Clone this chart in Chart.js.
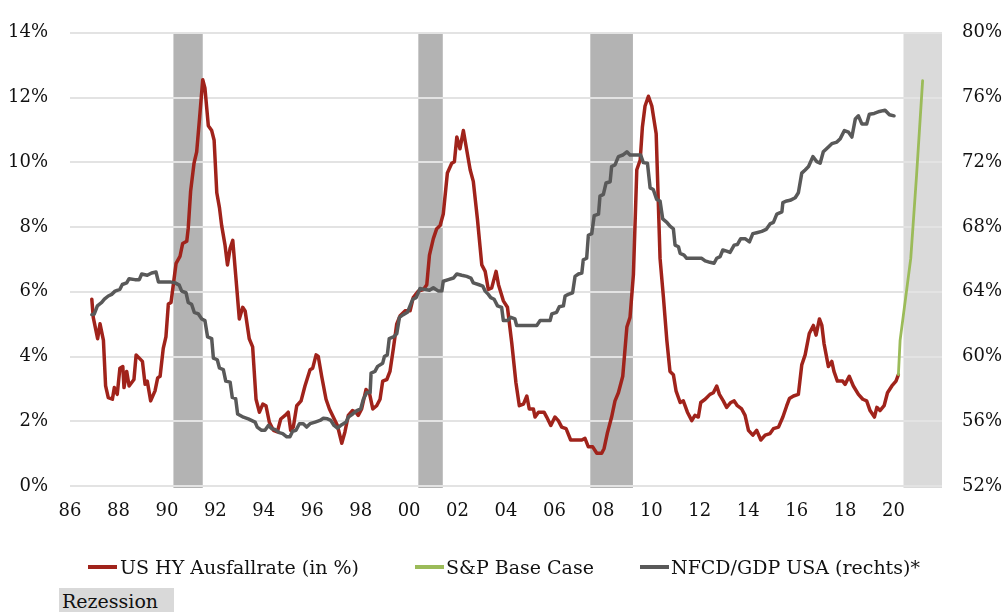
<!DOCTYPE html>
<html>
<head>
<meta charset="utf-8">
<script src="https://cdn.jsdelivr.net/npm/chart.js@4/dist/chart.umd.min.js"></script>
<style>
  html, body { margin: 0; padding: 0; background: #fff; }
  #wrap { position: relative; width: 1006px; height: 612px; overflow: hidden; }
  canvas { position: absolute; left: 0; top: 0; }
  .lg { position: absolute; font-family: 'DejaVu Serif', serif; font-size: 19px; color: #111; line-height: 22px; white-space: nowrap; }
  .mk { position: absolute; height: 4px; width: 29px; }
  #rez { position: absolute; left: 59px; top: 588px; width: 115px; height: 24px; background: #d9d9d9; }
</style>
</head>
<body>
<div id="wrap">
  <canvas id="c" width="1006" height="612"></canvas>
  <div class="mk" style="left:88px; top:565px; background:#a0231b"></div>
  <div class="lg" style="left:120px; top:556px">US HY Ausfallrate (in %)</div>
  <div class="mk" style="left:415px; top:565px; background:#9bbb59"></div>
  <div class="lg" style="left:446px; top:556px">S&amp;P Base Case</div>
  <div class="mk" style="left:640px; top:565px; background:#595959"></div>
  <div class="lg" style="left:671px; top:556px">NFCD/GDP USA (rechts)*</div>
  <div id="rez"></div>
  <div class="lg" style="left:62px; top:590px">Rezession</div>
</div>
<script>
// ---- data ----
const hyYears = [1986.90,1986.96,1987.14,1987.24,1987.38,1987.47,1987.58,1987.75,1987.83,1987.95,1988.06,1988.18,1988.23,1988.34,1988.44,1988.64,1988.73,1988.99,1989.10,1989.19,1989.33,1989.51,1989.62,1989.72,1989.85,1989.96,1990.06,1990.17,1990.38,1990.54,1990.65,1990.82,1990.88,1990.98,1991.12,1991.23,1991.34,1991.48,1991.57,1991.71,1991.85,1991.95,1992.06,1992.17,1992.26,1992.40,1992.50,1992.61,1992.72,1992.85,1992.99,1993.13,1993.23,1993.40,1993.54,1993.68,1993.82,1993.96,1994.09,1994.23,1994.40,1994.56,1994.70,1994.88,1995.01,1995.11,1995.22,1995.36,1995.54,1995.70,1995.91,1996.02,1996.16,1996.25,1996.39,1996.57,1996.71,1996.87,1997.04,1997.22,1997.35,1997.49,1997.66,1997.80,1997.90,1998.04,1998.22,1998.36,1998.50,1998.66,1998.80,1998.91,1999.08,1999.21,1999.35,1999.49,1999.63,1999.83,2000.04,2000.17,2000.38,2000.59,2000.73,2000.84,2001.00,2001.14,2001.28,2001.41,2001.58,2001.76,2001.87,2001.97,2002.10,2002.24,2002.38,2002.52,2002.65,2002.82,2003.00,2003.14,2003.27,2003.41,2003.59,2003.69,2003.89,2004.06,2004.24,2004.41,2004.55,2004.72,2004.86,2004.96,2005.13,2005.20,2005.34,2005.57,2005.68,2005.85,2006.02,2006.16,2006.30,2006.48,2006.67,2006.89,2007.13,2007.26,2007.40,2007.58,2007.75,2007.95,2008.05,2008.18,2008.36,2008.50,2008.64,2008.82,2008.99,2009.12,2009.26,2009.40,2009.54,2009.63,2009.74,2009.88,2010.02,2010.20,2010.36,2010.50,2010.64,2010.77,2010.91,2011.02,2011.19,2011.32,2011.49,2011.67,2011.80,2011.94,2012.04,2012.22,2012.42,2012.56,2012.70,2012.81,2012.97,2013.11,2013.28,2013.42,2013.55,2013.73,2013.87,2014.01,2014.19,2014.35,2014.52,2014.70,2014.90,2015.04,2015.25,2015.43,2015.59,2015.70,2015.87,2016.07,2016.21,2016.35,2016.52,2016.69,2016.80,2016.94,2017.04,2017.13,2017.31,2017.45,2017.54,2017.68,2017.90,2018.00,2018.17,2018.34,2018.55,2018.73,2018.89,2019.03,2019.21,2019.31,2019.44,2019.61,2019.75,2019.93,2020.10,2020.20];
const hyRates = [5.77,5.21,4.55,5.01,4.50,3.09,2.73,2.68,3.04,2.83,3.64,3.69,3.04,3.54,3.09,3.29,4.05,3.85,3.14,3.24,2.63,2.94,3.34,3.39,4.25,4.61,5.62,5.67,6.88,7.09,7.49,7.56,7.95,9.11,9.97,10.32,11.29,12.55,12.30,11.13,10.98,10.68,9.06,8.60,8.05,7.44,6.83,7.34,7.59,6.43,5.16,5.52,5.41,4.55,4.30,2.68,2.28,2.53,2.48,1.97,1.72,1.67,2.07,2.18,2.28,1.72,1.82,2.48,2.63,3.09,3.59,3.64,4.05,4.00,3.39,2.68,2.38,2.13,1.87,1.32,1.67,2.18,2.33,2.28,2.18,2.38,2.98,2.88,2.38,2.48,2.68,3.24,3.29,3.54,4.25,5.01,5.26,5.41,5.41,5.82,6.02,6.07,6.22,7.13,7.64,7.95,8.05,8.40,9.67,9.97,10.02,10.78,10.42,10.98,10.37,9.77,9.41,8.25,6.83,6.63,6.07,6.12,6.63,6.22,5.72,5.52,4.40,3.19,2.48,2.53,2.78,2.38,2.38,2.13,2.28,2.28,2.13,1.87,2.13,2.02,1.82,1.77,1.42,1.42,1.42,1.47,1.21,1.21,1.01,1.01,1.16,1.62,2.13,2.63,2.88,3.39,4.91,5.21,6.53,9.77,10.07,11.08,11.74,12.04,11.74,10.88,7.03,5.82,4.50,3.54,3.44,2.94,2.58,2.63,2.28,2.02,2.18,2.13,2.58,2.68,2.83,2.88,3.09,2.83,2.63,2.43,2.58,2.63,2.48,2.38,2.18,1.72,1.57,1.72,1.42,1.57,1.62,1.77,1.82,2.13,2.48,2.70,2.78,2.83,3.74,4.05,4.71,4.96,4.66,5.16,4.96,4.40,3.69,3.85,3.54,3.24,3.24,3.14,3.39,3.09,2.83,2.68,2.63,2.33,2.13,2.43,2.33,2.48,2.88,3.09,3.24,3.44];

const baseYears = [2020.20,2020.27,2020.71,2020.95,2021.20];
const baseRates = [3.44,4.50,7.03,9.60,12.52];

const nfcdYears = [1986.90,1987.00,1987.13,1987.31,1987.42,1987.58,1987.72,1987.86,1988.06,1988.16,1988.34,1988.44,1988.68,1988.86,1988.96,1989.19,1989.37,1989.55,1989.65,1990.13,1990.34,1990.51,1990.61,1990.79,1990.88,1991.02,1991.13,1991.30,1991.44,1991.57,1991.68,1991.85,1991.92,1992.08,1992.17,1992.33,1992.43,1992.61,1992.70,1992.84,1992.92,1993.16,1993.36,1993.64,1993.73,1993.91,1994.05,1994.19,1994.33,1994.46,1994.64,1994.78,1994.95,1995.08,1995.19,1995.33,1995.47,1995.63,1995.77,1995.91,1996.12,1996.32,1996.46,1996.63,1996.77,1996.90,1997.04,1997.22,1997.40,1997.49,1997.67,1997.84,1998.00,1998.11,1998.25,1998.39,1998.43,1998.59,1998.70,1998.91,1998.98,1999.10,1999.18,1999.35,1999.49,1999.60,1999.76,1999.93,2000.15,2000.29,2000.45,2000.62,2000.84,2001.00,2001.21,2001.35,2001.41,2001.62,2001.83,2001.97,2002.17,2002.38,2002.55,2002.65,2002.86,2003.04,2003.14,2003.27,2003.37,2003.51,2003.65,2003.82,2003.89,2004.06,2004.20,2004.37,2004.44,2005.27,2005.41,2005.82,2005.89,2006.09,2006.20,2006.37,2006.44,2006.57,2006.75,2006.85,2006.99,2007.13,2007.19,2007.33,2007.40,2007.54,2007.64,2007.82,2007.88,2008.02,2008.13,2008.30,2008.36,2008.50,2008.64,2008.82,2008.99,2009.12,2009.56,2009.67,2009.84,2009.95,2010.08,2010.22,2010.36,2010.47,2010.64,2010.77,2010.91,2010.98,2011.12,2011.19,2011.35,2011.46,2012.08,2012.22,2012.42,2012.59,2012.70,2012.84,2012.95,2013.11,2013.25,2013.42,2013.55,2013.69,2013.87,2014.05,2014.19,2014.35,2014.56,2014.74,2014.90,2015.04,2015.18,2015.39,2015.43,2015.59,2015.73,2015.94,2016.07,2016.21,2016.35,2016.49,2016.67,2016.83,2016.97,2017.10,2017.31,2017.45,2017.66,2017.80,2017.97,2018.14,2018.28,2018.42,2018.55,2018.69,2018.89,2019.00,2019.20,2019.42,2019.65,2019.83,2020.02];
const nfcdRatio = [62.59,62.62,63.13,63.34,63.54,63.74,63.84,64.04,64.15,64.45,64.55,64.81,64.75,64.75,65.10,65.02,65.16,65.22,64.61,64.61,64.55,64.41,64.04,63.94,63.34,63.23,62.73,62.63,62.32,62.22,61.21,61.11,59.90,59.80,59.29,59.19,58.48,58.42,57.47,57.40,56.45,56.25,56.15,55.95,55.64,55.44,55.44,55.74,55.54,55.50,55.30,55.24,55.04,55.04,55.38,55.44,55.85,55.85,55.64,55.85,55.95,56.05,56.19,56.15,56.05,55.74,55.58,55.79,55.95,56.25,56.45,56.66,56.76,57.36,57.77,57.77,58.98,59.08,59.39,59.59,60.00,60.10,61.11,61.21,61.41,62.42,62.59,62.73,63.54,63.64,64.20,64.15,64.10,64.25,64.04,64.04,64.65,64.75,64.85,65.10,65.02,64.95,64.85,64.55,64.45,64.35,64.04,63.84,63.64,63.54,63.13,63.03,62.22,62.22,62.42,62.32,61.92,61.92,62.22,62.22,62.63,62.73,63.07,63.13,63.74,63.84,63.94,64.95,65.10,65.16,65.97,66.07,67.49,67.59,68.70,68.80,69.91,70.02,70.72,70.80,71.74,71.84,72.35,72.45,72.65,72.45,72.45,71.98,71.94,70.42,70.32,69.71,69.61,68.50,68.29,68.05,67.89,66.88,66.78,66.37,66.27,66.07,66.07,65.91,65.82,65.76,66.07,66.17,66.58,66.51,66.43,66.88,66.92,67.28,67.28,67.08,67.59,67.65,67.73,67.85,68.19,68.29,68.80,68.94,69.51,69.61,69.65,69.81,70.12,71.33,71.53,71.74,72.35,72.04,71.94,72.65,72.95,73.15,73.25,73.46,73.96,73.86,73.56,74.67,74.87,74.37,74.37,74.97,75.02,75.14,75.22,74.94,74.87];

const recessionStart = [1990.27, 2000.38, 2007.48];
const recessionEnd   = [1991.48, 2001.39, 2009.24];
const forecastStart = 2020.41, forecastEnd = 2022.0;

const xTickYears = [1986,1988,1990,1992,1994,1996,1998,2000,2002,2004,2006,2008,2010,2012,2014,2016,2018,2020];
const leftTicks = [0,2,4,6,8,10,12,14];
const rightTicks = [52,56,60,64,68,72,76,80];

// ---- chart ----
const toXY = (xs, ys) => xs.map((x, i) => ({x, y: ys[i]}));
const FONT = {family: "'DejaVu Serif', serif", size: 18};

const bandPlugin = {
  id: 'bands',
  beforeDraw(chart) {
    const {ctx, chartArea, scales} = chart;
    const x = scales.x;
    ctx.save();
    const top = chartArea.top, bot = chartArea.bottom + 2;
    ctx.fillStyle = '#b3b3b3';
    recessionStart.forEach((s, i) => {
      const a = x.getPixelForValue(s), b = x.getPixelForValue(recessionEnd[i]);
      ctx.fillRect(a, top, b - a, bot - top);
    });
    ctx.fillStyle = '#dadada';
    const a = x.getPixelForValue(forecastStart), b = x.getPixelForValue(forecastEnd);
    ctx.fillRect(a, top, b - a, bot - top);
    ctx.restore();
  }
};

new Chart(document.getElementById('c'), {
  type: 'line',
  data: {
    datasets: [
      {label: 'NFCD/GDP USA (rechts)*', data: toXY(nfcdYears, nfcdRatio), yAxisID: 'y1',
       borderColor: '#595959', borderWidth: 3.5, order: 0},
      {label: 'S&P Base Case', data: toXY(baseYears, baseRates), yAxisID: 'y',
       borderColor: '#9bbb59', borderWidth: 2.8, order: 1},
      {label: 'US HY Ausfallrate (in %)', data: toXY(hyYears, hyRates), yAxisID: 'y',
       borderColor: '#a0231b', borderWidth: 3.5, order: 2}
    ]
  },
  options: {
    responsive: false,
    animation: false,
    devicePixelRatio: 1,
    layout: {padding: {top: 24, left: 0, right: 0, bottom: 0}},
    elements: {point: {radius: 0}, line: {tension: 0, borderJoinStyle: 'round', borderCapStyle: 'round'}},
    plugins: {legend: {display: false}, tooltip: {enabled: false}},
    scales: {
      x: {
        type: 'linear', min: 1986, max: 2022,
        grid: {display: false, drawTicks: false},
        border: {display: false},
        afterBuildTicks: s => { s.ticks = xTickYears.map(v => ({value: v})); },
        afterFit: s => { s.height = 612 - 486; },
        ticks: {font: FONT, color: '#111', padding: 15, maxRotation: 0, autoSkip: false,
                callback: v => String(v % 100).padStart(2, '0')}
      },
      y: {
        position: 'left', min: 0, max: 14,
        afterBuildTicks: s => { s.ticks = leftTicks.map(v => ({value: v})); },
        afterFit: s => { s.width = 70; },
        grid: {color: '#e3e3e3', lineWidth: 2, drawTicks: false},
        border: {display: false},
        ticks: {font: FONT, color: '#111', padding: 22, callback: v => v + '%'}
      },
      y1: {
        position: 'right', min: 52, max: 80,
        afterBuildTicks: s => { s.ticks = rightTicks.map(v => ({value: v})); },
        afterFit: s => { s.width = 1006 - 942; },
        grid: {drawOnChartArea: false, drawTicks: false},
        border: {display: false},
        ticks: {font: FONT, color: '#111', padding: 20, callback: v => v + '%'}
      }
    }
  },
  plugins: [bandPlugin]
});
</script>
</body>
</html>
